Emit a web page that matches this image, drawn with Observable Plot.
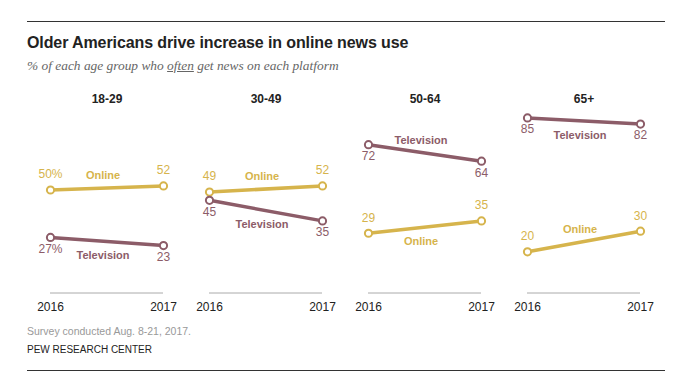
<!DOCTYPE html>
<html>
<head>
<meta charset="utf-8">
<script src="https://cdn.jsdelivr.net/npm/d3@7"></script>
<script src="https://cdn.jsdelivr.net/npm/@observablehq/plot@0.6"></script>
<style>
  html, body { margin: 0; padding: 0; background: #fff; }
  #wrap { position: relative; width: 696px; height: 377px; font-family: "Liberation Sans", Arial, sans-serif; }
  .rule { position: absolute; left: 27px; width: 638px; height: 0; border-top: 1px solid #333; }
  #title { position: absolute; left: 27px; top: 33px; line-height: 20px; font-size: 16px; font-weight: bold; color: #222; letter-spacing: -0.1px; white-space: nowrap; }
  #subtitle { position: absolute; left: 27px; top: 58px; line-height: 16px; font-family: "Liberation Serif", serif; font-style: italic; font-size: 13.4px; color: #666; white-space: nowrap; }
  #chart { position: absolute; left: 0; top: 76px; }
  #note { position: absolute; left: 27px; top: 323px; line-height: 16px; font-size: 10.5px; color: #999; white-space: nowrap; }
  #source { position: absolute; left: 27px; top: 342px; line-height: 16px; font-size: 10px; color: #222; white-space: nowrap; }
</style>
</head>
<body>
<div id="wrap">
  <div class="rule" style="top:21px"></div>
  <div id="title">Older Americans drive increase in online news use</div>
  <div id="subtitle">% of each age group who <u>often</u> get news on each platform</div>
  <div id="chart"></div>
  <div id="note">Survey conducted Aug. 8-21, 2017.</div>
  <div id="source">PEW RESEARCH CENTER</div>
  <div class="rule" style="top:370px"></div>
</div>
<script>
// ---- Data ----
const ages = ["18-29", "30-49", "50-64", "65+"];
const years = [2016, 2017];
const seriesNames = ["Online", "Television"];
const online2016 = [50, 49, 29, 20];
const online2017 = [52, 52, 35, 30];
const tv2016 = [27, 45, 72, 85];
const tv2017 = [23, 35, 64, 82];

const colors = ["#d6b44c", "#8c5c68"];

// ---- Build tables ----
const values = {
  Online: [online2016, online2017],
  Television: [tv2016, tv2017]
};
const rows = [];
ages.forEach((age, i) => {
  seriesNames.forEach(s => {
    years.forEach((yr, j) => {
      rows.push({age, series: s, year: yr, value: values[s][j][i], first: i === 0 && j === 0});
    });
  });
});

// Line-label placement: at line midpoint, above or below
const labels = [];
ages.forEach((age, i) => {
  const mids = seriesNames.map(s => d3.mean(years.map((_, j) => values[s][j][i])));
  const upper = mids[0] >= mids[1] ? 0 : 1;
  const crowdedTop = mids[upper] > 80;
  seriesNames.forEach((s, k) => {
    const isUpper = k === upper;
    const above = crowdedTop ? !isUpper : isUpper;
    labels.push({age, series: s, year: d3.mean(years), value: mids[k], above});
  });
});

const font = '"Liberation Sans", Arial, sans-serif';

const chart = Plot.plot({
  width: 696,
  height: 240,
  marginLeft: 49,
  marginRight: 54,
  marginTop: 10.5,
  marginBottom: 23.5,
  style: { fontFamily: font, fontSize: "12px", color: "#222", background: "transparent" },
  fx: { domain: ages, paddingInner: 0.2875, paddingOuter: 0, axis: null },
  x: { domain: [2016, 2017], ticks: years, tickFormat: d => String(d), tickSize: 0, tickPadding: 9, label: null },
  y: { domain: [0, 100], axis: null },
  color: { domain: seriesNames, range: colors },
  marks: [
    Plot.ruleY([0], { stroke: "#aaa", strokeWidth: 1 }),
    Plot.line(rows, { fx: "age", x: "year", y: "value", z: "series", stroke: "series", strokeWidth: 3.5 }),
    Plot.dot(rows, { fx: "age", x: "year", y: "value", stroke: "series", fill: "white", r: 3.6, strokeWidth: 2 }),
    Plot.text(rows.filter(d => d.series === "Online"), {
      fx: "age", x: "year", y: "value", fill: "series",
      text: d => d.value + (d.first ? "%" : ""), dy: -15.5, fontSize: 12
    }),
    Plot.text(rows.filter(d => d.series === "Television"), {
      fx: "age", x: "year", y: "value", fill: "series",
      text: d => d.value + (d.first ? "%" : ""), dy: 11.5, fontSize: 12
    }),
    Plot.text(labels.filter(d => d.above), {
      fx: "age", x: "year", y: "value", fill: "series", text: "series",
      dy: -12.5, dx: -4, fontSize: 11, fontWeight: "bold"
    }),
    Plot.text(labels.filter(d => !d.above), {
      fx: "age", x: "year", y: "value", fill: "series", text: "series",
      dy: 14, dx: -4, fontSize: 11, fontWeight: "bold"
    }),
    Plot.text(ages, { fx: d => d, text: d => d, frameAnchor: "top", dy: 7.5, fontSize: 12, fontWeight: "bold", fill: "#222" })
  ]
});
document.getElementById("chart").appendChild(chart);
</script>
</body>
</html>
